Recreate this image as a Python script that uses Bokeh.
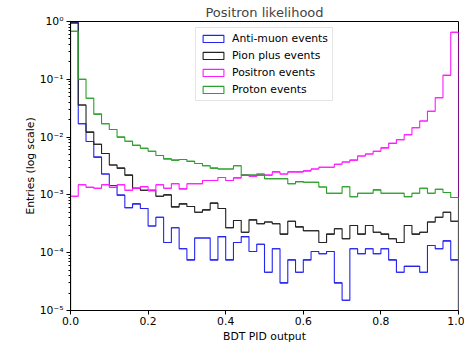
import numpy as np
from bokeh.plotting import figure
from bokeh.models import Range1d, FixedTicker, CustomJSTickFormatter, PrintfTickFormatter
from bokeh.embed import file_html
from bokeh.resources import INLINE

# ---- data (normalised entries per bin, 50 bins over [0, 1]) ----
bin_edges = np.linspace(0.0, 1.0, 51)

anti_muon = [0.96, 0.017, 0.0084, 0.0045, 0.0023, 0.00145, 0.00099, 0.0006, 0.0007, 0.00058,
             0.00029, 0.00041, 0.00015, 0.00027, 0.000117, 0.000075, 0.00018, 0.00018, 0.000075, 0.00019,
             0.000075, 0.00015, 0.00019, 0.000105, 0.00014, 0.000046, 0.000117, 0.00003, 0.000075, 0.000046,
             0.000075, 0.000105, 0.000096, 0.000105, 0.00003, 0.000015, 0.000117, 0.000096, 0.000117, 0.000096,
             0.000117, 0.000075, 0.000046, 0.000058, 0.000058, 0.000046, 0.000133, 0.000117, 0.00016, 0.000075]

pion_plus = [0.94, 0.036, 0.0122, 0.0075, 0.0052, 0.0033, 0.0029, 0.0022, 0.0013, 0.0012,
             0.0012, 0.00095, 0.001, 0.00062, 0.0007, 0.00063, 0.0005, 0.00055, 0.00072, 0.00058,
             0.00027, 0.00036, 0.000226, 0.00037, 0.000316, 0.00034, 0.000316, 0.00021, 0.00035, 0.00028,
             0.00024, 0.00024, 0.00015, 0.00021, 0.00026, 0.000174, 0.000295, 0.00021, 0.000295, 0.000226,
             0.00021, 0.000174, 0.00015, 0.000295, 0.00021, 0.000226, 0.00034, 0.00041, 0.0005, 0.00035]

positron = [0.00095, 0.0015, 0.00135, 0.0013, 0.0015, 0.00135, 0.0015, 0.0012, 0.0013, 0.00139,
            0.00118, 0.0015, 0.0013, 0.00156, 0.00127, 0.00156, 0.00156, 0.00178, 0.00178, 0.002,
            0.00178, 0.00197, 0.0022, 0.0021, 0.0023, 0.0022, 0.0025, 0.0023, 0.0025, 0.0025,
            0.0026, 0.0028, 0.003, 0.003, 0.0034, 0.0037, 0.004, 0.0047, 0.0051, 0.0057,
            0.0065, 0.0078, 0.009, 0.011, 0.0145, 0.019, 0.028, 0.048, 0.117, 0.65]

proton = [0.68, 0.1, 0.047, 0.025, 0.017, 0.0135, 0.01, 0.0085, 0.0072, 0.0064,
          0.0057, 0.0048, 0.0042, 0.004, 0.0041, 0.0038, 0.0035, 0.0032, 0.0029, 0.0028,
          0.0028, 0.0032, 0.0022, 0.0022, 0.0022, 0.0019, 0.0019, 0.0019, 0.00156, 0.0017,
          0.00166, 0.00166, 0.00137, 0.00107, 0.00107, 0.00138, 0.00093, 0.00107, 0.00107, 0.00122,
          0.00107, 0.00107, 0.00107, 0.00093, 0.00107, 0.0013, 0.00107, 0.00125, 0.0011, 0.0009]

series_labels = ["Anti-muon events", "Pion plus events", "Positron events", "Proton events"]
series_values = [anti_muon, pion_plus, positron, proton]
series_colors = ["#2424ee", "#222222", "#ff1aff", "#2ca02c"]

y_major = [1e-5, 1e-4, 1e-3, 1e-2, 1e-1, 1e0]
y_minor = [m * 10.0 ** e for e in range(-5, 0) for m in range(2, 10)]
x_major = [0.0, 0.2, 0.4, 0.6, 0.8, 1.0]

FONT = "DejaVu Sans"


def step_outline(edges, counts, floor=1e-9):
    xs = [edges[0]]
    ys = [floor]
    for i, c in enumerate(counts):
        xs += [edges[i], edges[i + 1]]
        ys += [c, c]
    xs.append(edges[-1])
    ys.append(floor)
    return xs, ys


p = figure(width=464, height=345, y_axis_type="log",
           x_range=Range1d(0.0, 1.0), y_range=Range1d(1e-5, 1.0),
           output_backend="svg", toolbar_location=None,
           min_border_left=70, min_border_right=6, min_border_bottom=35, min_border_top=21,
           title="Positron likelihood")

p.background_fill_color = "white"
p.border_fill_color = "white"
p.outline_line_color = "black"
p.outline_line_width = 1
p.grid.visible = False

for vals, col, lab in zip(series_values, series_colors, series_labels):
    xs, ys = step_outline(bin_edges, vals)
    p.line(xs, ys, line_color=col, line_width=1.1)
    # bin tops as zero-height outlined boxes: gives the rectangle legend handle
    p.quad(left=bin_edges[:-1], right=bin_edges[1:], top=vals, bottom=vals,
           fill_alpha=0, line_color=col, line_width=1.1, legend_label=lab)

# title
p.title.text_font = FONT
p.title.text_font_size = "13px"
p.title.text_font_style = "normal"
p.title.align = "center"
p.title.standoff = 4

# axes
for ax in (p.xaxis[0], p.yaxis[0]):
    ax.axis_line_color = "black"
    ax.major_tick_line_color = "black"
    ax.minor_tick_line_color = "black"
    ax.major_tick_out = 4
    ax.major_tick_in = 0
    ax.minor_tick_out = 2
    ax.minor_tick_in = 0
    ax.major_label_text_font = FONT
    ax.major_label_text_font_size = "10.8px"
    ax.major_label_text_color = "black"
    ax.axis_label_text_font = FONT
    ax.axis_label_text_font_size = "10.8px"
    ax.axis_label_text_font_style = "normal"
    ax.axis_label_text_color = "black"

p.xaxis.ticker = FixedTicker(ticks=x_major, minor_ticks=[])
p.xaxis.formatter = PrintfTickFormatter(format="%.1f")
p.xaxis.axis_label = "BDT PID output"
p.xaxis.major_label_standoff = 2
p.xaxis.axis_label_standoff = 2

p.yaxis.ticker = FixedTicker(ticks=y_major, minor_ticks=y_minor)
p.yaxis.formatter = CustomJSTickFormatter(code="""
const sup = {'-':'\u207b','0':'\u2070','1':'\u00b9','2':'\u00b2','3':'\u00b3','4':'\u2074',
             '5':'\u2075','6':'\u2076','7':'\u2077','8':'\u2078','9':'\u2079'};
const e = Math.round(Math.log10(tick));
return '10' + String(e).split('').map(c => sup[c]).join('');
""")
p.yaxis.axis_label = "Entries (log scale)"
p.yaxis.major_label_standoff = 3
p.yaxis.axis_label_standoff = 0

# legend
lg = p.legend[0]
lg.location = "top_center"
lg.margin = 6
lg.padding = 4
lg.spacing = 4
lg.label_height = 12
lg.glyph_width = 26
lg.glyph_height = 9
lg.label_standoff = 6
lg.label_text_font = FONT
lg.label_text_font_size = "10.8px"
lg.label_text_color = "black"
lg.border_line_color = "#cccccc"
lg.border_line_width = 1
lg.background_fill_alpha = 0.8

open("out.html", "w").write(file_html(p, INLINE))
